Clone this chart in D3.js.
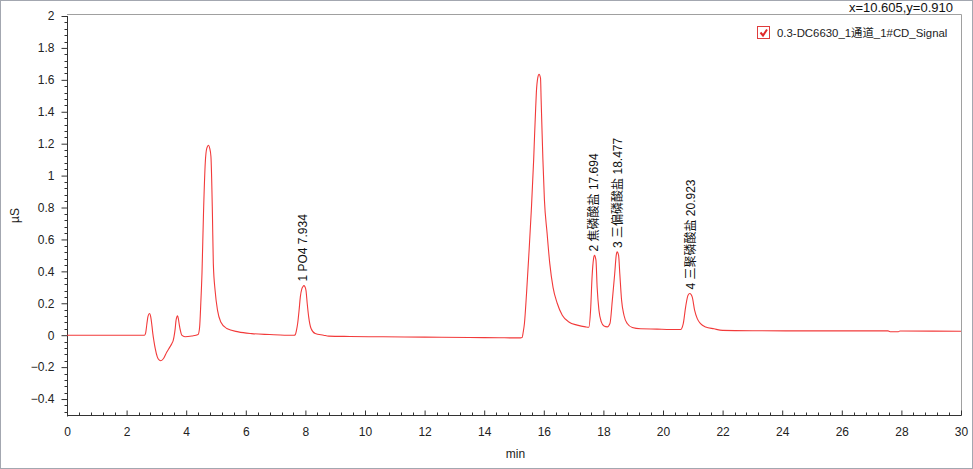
<!DOCTYPE html>
<html>
<head>
<meta charset="utf-8">
<script src="https://cdn.jsdelivr.net/npm/d3@7"></script>
<style>
  html, body { margin: 0; padding: 0; background: #fff; }
  svg { display: block; }
  text { font-family: "Liberation Sans", Arial, "Noto Sans CJK SC", sans-serif; }
</style>
</head>
<body>
<svg id="chart" width="973" height="469"></svg>
<script>
// ---- data ----
const seriesName = "0.3-DC6630_1通道_1#CD_Signal";
const cursorText = "x=10.605,y=0.910";
const xLabel = "min";
const yLabel = "µS";

const times = [
  0, 2.60, 2.64, 2.68, 2.72, 2.77, 2.81, 2.85, 2.88, 2.92, 2.96, 3.03, 3.09, 3.15, 3.24, 3.35, 3.44, 3.52, 3.56, 3.59,
  3.63, 3.66, 3.71, 3.74, 3.77, 3.81, 3.85, 3.96, 4.19, 4.40,
  4.45, 4.49, 4.53, 4.58, 4.64, 4.69, 4.75, 4.79, 4.83, 4.88, 4.91, 4.97, 5.05, 5.16, 5.36, 5.75, 6.20, 6.80, 7.30, 7.62,
  7.66, 7.70, 7.74, 7.79, 7.83, 7.88, 7.92, 7.95, 7.98, 8.02, 8.06, 8.11, 8.19, 8.33, 8.61, 8.78,
  9.50, 10.60, 12.00, 13.50, 14.50, 15.22,
  15.27, 15.31, 15.35, 15.42, 15.50, 15.58, 15.66, 15.69, 15.72, 15.75, 15.80, 15.84, 15.89, 15.91, 15.94, 15.97,
  16.02, 16.11, 16.20, 16.31, 16.45, 16.62, 16.84, 17.12, 17.40, 17.51,
  17.57, 17.62, 17.67, 17.70, 17.75, 17.79, 17.85, 17.93, 18.02, 18.13,
  18.22, 18.30, 18.38, 18.43, 18.46, 18.51, 18.55, 18.61, 18.69, 18.80, 18.97, 19.25, 19.80, 20.25, 20.59,
  20.68, 20.76, 20.84, 20.90, 20.98, 21.06, 21.15, 21.26, 21.43, 21.71, 22.00, 23.00, 25.00, 27.55, 27.62, 27.90, 27.95, 30.00
];
const values = [
  0, 0, 0.015, 0.07, 0.12, 0.136, 0.115, 0.06, 0.01, -0.04, -0.083, -0.136, -0.155, -0.16, -0.146, -0.105, -0.078, -0.052, -0.035, -0.01,
  0.04, 0.094, 0.121, 0.10, 0.063, 0.025, 0.0, -0.01, -0.005, 0.005,
  0.05, 0.20, 0.39, 0.76, 1.08, 1.17, 1.19, 1.17, 1.12, 0.76, 0.45, 0.28, 0.157, 0.083, 0.042, 0.021, 0.010, 0.004, 0.0, 0.0,
  0.003, 0.03, 0.073, 0.16, 0.24, 0.29, 0.305, 0.311, 0.305, 0.28, 0.20, 0.115, 0.042, 0.010, 0.0, -0.006,
  -0.008, -0.010, -0.012, -0.014, -0.016, -0.017,
  -0.015, 0.02, 0.073, 0.26, 0.51, 0.78, 1.10, 1.25, 1.39, 1.52, 1.615, 1.635, 1.61, 1.48, 1.285, 1.10,
  0.85, 0.64, 0.45, 0.30, 0.20, 0.125, 0.083, 0.063, 0.052, 0.05,
  0.157, 0.366, 0.48, 0.50, 0.47, 0.30, 0.157, 0.083, 0.057, 0.052,
  0.073, 0.22, 0.387, 0.50, 0.522, 0.50, 0.387, 0.22, 0.125, 0.073, 0.048, 0.040, 0.038, 0.036, 0.036,
  0.073, 0.178, 0.25, 0.261, 0.24, 0.157, 0.104, 0.073, 0.052, 0.040, 0.030, 0.028, 0.027, 0.027, 0.022, 0.022, 0.026, 0.025
];

const peakLabels = ["1 PO4 7.934", "2 焦磷酸盐 17.694", "3 三偏磷酸盐 18.477", "4 三聚磷酸盐 20.923"];
const peakTimes = [7.934, 17.694, 18.477, 20.923];
const peakHeights = [0.311, 0.50, 0.522, 0.261];

const xTickValues = [0, 2, 4, 6, 8, 10, 12, 14, 16, 18, 20, 22, 24, 26, 28, 30];
const yTickValues = [-0.4, -0.2, 0, 0.2, 0.4, 0.6, 0.8, 1, 1.2, 1.4, 1.6, 1.8, 2];

// ---- layout ----
const W = 973, H = 469;
const mLeft = 67, mRight = 961, mTop = 16, mBottom = 415;
const svg = d3.select("#chart");

const x = d3.scaleLinear().domain([0, 30]).range([mLeft, mRight]);
const y = d3.scaleLinear().domain([-0.5, 2]).range([mBottom, mTop]);

// outer window border
svg.append("rect").attr("x", 0.5).attr("y", 0.5).attr("width", W - 1).attr("height", H - 1)
  .attr("fill", "#fff").attr("stroke", "#a3a7b0");

// plot frame (top/right)
svg.append("path")
  .attr("d", `M${mLeft},${mTop - 1.5}H${mRight + 0.5}V${mBottom}`)
  .attr("fill", "none").attr("stroke", "#a0a0a0").attr("stroke-width", 1);

const tickColor = "#222";

// y axis
const yMinor = d3.range(-0.48, 2.0001, 0.04).filter(v => Math.abs(Math.round(v / 0.2) * 0.2 - v) > 1e-6);
const yAxis = d3.axisLeft(y).tickValues(yTickValues).tickSize(6).tickPadding(7)
  .tickFormat(d => d3.format("")(+d.toFixed(1)));
const gy = svg.append("g").attr("transform", `translate(${mLeft + 0.5},0)`).call(yAxis);
gy.select(".domain").attr("d", `M-0,${mTop}V${mBottom + 1.5}`).attr("stroke", "#333");
gy.selectAll(".tick line").attr("stroke", "#333");
gy.selectAll(".tick text").attr("font-size", 12).attr("fill", tickColor)
  .attr("font-family", "'Liberation Sans', Arial, sans-serif");
gy.selectAll(".minor").data(yMinor).enter().append("line").attr("class", "minor")
  .attr("x1", -3).attr("x2", 0).attr("y1", d => Math.round(y(d)) + 0.5).attr("y2", d => Math.round(y(d)) + 0.5)
  .attr("stroke", "#333");

// x axis (ticks pointing up into the plot)
const xMinor = d3.range(0.4, 30, 0.4).filter(v => Math.abs(Math.round(v / 2) * 2 - v) > 1e-6);
const xAxis = d3.axisBottom(x).tickValues(xTickValues).tickSize(-5).tickPadding(12).tickFormat(d3.format("d"));
const gx = svg.append("g").attr("transform", `translate(0,${mBottom + 0.5})`).call(xAxis);
gx.select(".domain").attr("d", `M${mLeft},0H${mRight + 0.5}`).attr("stroke", "#333");
gx.selectAll(".tick line").attr("stroke", "#333");
gx.selectAll(".tick text").attr("font-size", 12).attr("fill", tickColor)
  .attr("font-family", "'Liberation Sans', Arial, sans-serif");
gx.selectAll(".minor").data(xMinor).enter().append("line").attr("class", "minor")
  .attr("y1", -3).attr("y2", 0).attr("x1", d => Math.round(x(d)) + 0.5).attr("x2", d => Math.round(x(d)) + 0.5)
  .attr("stroke", "#333");

// axis titles
svg.append("text").attr("x", x(15.05)).attr("y", 458).attr("text-anchor", "middle")
  .attr("font-size", 12).attr("fill", tickColor).text(xLabel);
svg.append("text").attr("transform", `translate(19,${(mTop + mBottom) / 2}) rotate(-90)`)
  .attr("text-anchor", "middle").attr("font-size", 12).attr("fill", tickColor).text(yLabel);

// trace
const pts = times.map((t, i) => [t, values[i]]);
const line = d3.line().x(d => x(d[0])).y(d => y(d[1])).curve(d3.curveMonotoneX);
svg.append("path").datum(pts).attr("d", line)
  .attr("fill", "none").attr("stroke", "#f23a3a").attr("stroke-width", 1.1).attr("stroke-linejoin", "round");

// peak labels
peakLabels.forEach((lab, i) => {
  const px = x(peakTimes[i]), py = y(peakHeights[i]) - 4;
  svg.append("text").attr("transform", `translate(${px + 4},${py}) rotate(-90)`)
    .attr("font-size", 12).attr("fill", "#111").text(lab);
});

// legend
svg.append("rect").attr("x", 757.5).attr("y", 26.5).attr("width", 12).attr("height", 12)
  .attr("fill", "#fff").attr("stroke", "#e03c3c").attr("stroke-width", 1);
svg.append("path").attr("d", "M760.5,32.5 L763,35.5 L767,29.5")
  .attr("fill", "none").attr("stroke", "#e02828").attr("stroke-width", 2);
svg.append("text").attr("x", 777).attr("y", 36.5).attr("font-size", 11.4).attr("fill", "#222").text(seriesName);

// cursor readout
svg.append("text").attr("x", 953).attr("y", 12).attr("text-anchor", "end")
  .attr("font-size", 13).attr("fill", "#111").text(cursorText);
</script>
</body>
</html>
